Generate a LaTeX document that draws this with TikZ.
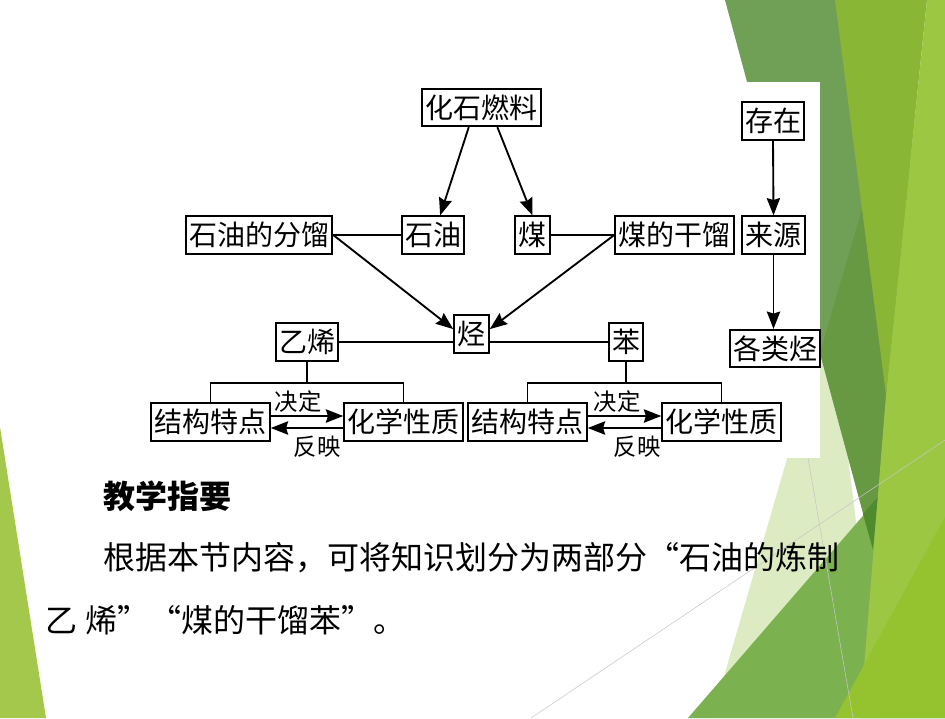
\documentclass[tikz,border=0pt]{standalone}
\usepackage{fontspec}
\newfontfamily\cjk{Noto Sans CJK SC}
\usepackage{tikz}
\usetikzlibrary{arrows.meta,calc}

\definecolor{gLeft}{HTML}{A3C84B}
\definecolor{gPale}{HTML}{DCEBC2}
\definecolor{gDark}{HTML}{70A056}
\definecolor{gDarker}{HTML}{679842}
\definecolor{gDeep}{HTML}{4F8B2C}
\definecolor{gMid}{HTML}{8AB636}
\definecolor{gMed}{HTML}{7BB24F}
\definecolor{gBright}{HTML}{9CC742}
\definecolor{gYellow}{HTML}{95C22F}

\begin{document}
\begin{tikzpicture}[x=0.75pt,y=0.75pt,yscale=-1,xscale=1,
  box/.style={draw,line width=1.4pt,fill=white,inner xsep=2.5pt,inner ysep=1pt,minimum height=28pt,font=\cjk\fontsize{21}{24}\selectfont},
  tag/.style={inner sep=0pt,font=\cjk\fontsize{17.5}{20}\selectfont},
  link/.style={line width=1.4pt},
  arr/.style={line width=1.4pt,-{Stealth[length=13pt,width=10pt,inset=1.5pt]}}]
\useasboundingbox (0,0) rectangle (945,718);
\fill[white] (0,0) rectangle (945,718);
%Shape: green facets
\fill[gLeft] (0,427) -- (46,718) -- (0,718) -- cycle;
\fill[gPale] (830,310) -- (712,718) -- (880,718) -- cycle;
\fill[gDark] (725,0) -- (926,0) -- (873,550) -- cycle;
\fill[gDarker] (866,195) -- (820,353) -- (873,550) -- (888,395) -- cycle;
\fill[gMid] (835,0) -- (927,0) -- (886,395) -- cycle;
\fill[gMed] (688,718) -- (945,421) -- (945,718) -- cycle;
\fill[gDeep] (863,514) -- (878,497) -- (873,550) -- cycle;
\fill[gBright] (927,0) -- (945,0) -- (945,718) -- (860,718) -- (886,395) -- cycle;
\fill[gYellow] (835,718) -- (945,517) -- (945,718) -- cycle;
\draw[black!22,line width=0.4pt] (808,458) -- (853,718);
\draw[black!22,line width=0.4pt] (531,718) -- (945,440);
%Shape: Rectangle (white picture area)
\fill[white] (140,82) rectangle (820,458);
% Text Node
\node[box] (fuel) at (481.5,107.5) {化石燃料};
\node[box] (frac) at (259,235) {石油的分馏};
\node[box] (oil) at (433,235) {石油};
\node[box] (coal) at (532.5,235) {煤};
\node[box] (coking) at (674.5,235) {煤的干馏};
\node[box] (exist) at (773,121) {存在};
\node[box] (source) at (773.5,235) {来源};
\node[box] (kinds) at (775,348.5) {各类烃};
\node[box] (hc) at (471.5,334) {烃};
\node[box] (ethene) at (307,342) {乙烯};
\node[box] (benzene) at (626,342) {苯};
\node[box] (struct1) at (210.5,422) {结构特点};
\node[box] (chem1) at (403.5,422) {化学性质};
\node[box] (struct2) at (527.5,422) {结构特点};
\node[box] (chem2) at (721.5,422) {化学性质};
%Straight Lines
\draw[arr] (fuel.237) -- (oil.70);
\draw[arr] (fuel.309) -- (coal.north);
\draw[link] (frac.east) -- (oil.west);
\draw[link] (coal.east) -- (coking.west);
\draw[arr] (frac.east) -- (hc.165);
\draw[arr] (coking.west) -- (hc.15);
\draw[link] (ethene.east) -- (ethene.east -| hc.west);
\draw[link] (benzene.west -| hc.east) -- (benzene.west);
\draw[arr] (exist.south) -- (source.north);
\draw[arr] (source.south) -- (source.south |- kinds.north);
%Straight Lines (forks)
\coordinate (fork1) at ($(ethene.south)+(0,21)$);
\coordinate (fork2) at ($(benzene.south)+(0,21)$);
\draw[link] (ethene.south) -- (fork1);
\draw[link] (struct1.north) |- (fork1) -| (chem1.north);
\draw[link] (benzene.south) -- (fork2);
\draw[link] (struct2.north) |- (fork2) -| (chem2.north);
%Straight Lines (decide / reflect)
\draw[arr] ($(struct1.east)+(0,-6)$) -- ($(chem1.west)+(0,-6)$);
\draw[arr] ($(chem1.west)+(0,6)$) -- ($(struct1.east)+(0,6)$);
\draw[arr] ($(struct2.east)+(0,-6)$) -- ($(chem2.west)+(0,-6)$);
\draw[arr] ($(chem2.west)+(0,6)$) -- ($(struct2.east)+(0,6)$);
% Text Node
\node[tag] (dec1) at (298,402) {决定};
\node[tag] (ref1) at (317,447) {反映};
\node[tag] (dec2) at (617,402) {决定};
\node[tag] (ref2) at (637,447) {反映};
% Text Node
\node[anchor=west,inner sep=0pt,font=\cjk\bfseries\fontsize{24}{28}\selectfont] (title) at (103,496) {教学指要};
\node[anchor=west,inner sep=0pt,font=\cjk\fontsize{24}{28}\selectfont] (line1) at (103,558) {根据本节内容，可将知识划分为两部分“石油的炼制};
\node[anchor=west,inner sep=0pt,font=\cjk\fontsize{24}{28}\selectfont] (line2) at (45,620) {乙\hspace{6pt}烯”“煤的干馏苯”。};
\end{tikzpicture}
\end{document}
